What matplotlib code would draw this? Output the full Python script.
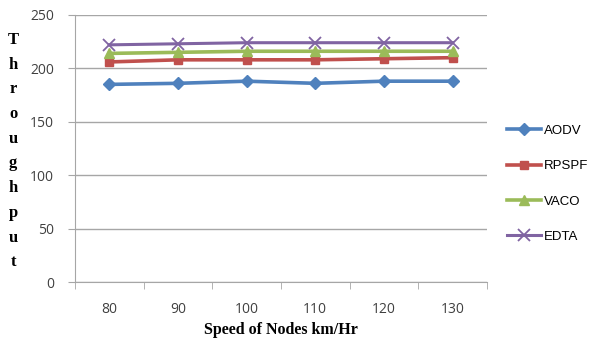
import matplotlib.pyplot as plt
from matplotlib.ticker import FixedLocator

# throughput against node speed for each routing scheme
speeds = ["80", "90", "100", "110", "120", "130"]
aodv = [185, 186, 188, 186, 188, 188]
rpspf = [206, 208, 208, 208, 209, 210]
vaco = [214, 215, 216, 216, 216, 216]
edta = [222, 223, 224, 224, 224, 224]

fig = plt.figure(figsize=(5.93, 3.47), dpi=100)
ax = fig.add_axes([0.1265, 0.187, 0.6945, 0.770])

x = list(range(len(speeds)))
ax.plot(x, aodv, color="#4F81BD", lw=2.6, marker="D", ms=6, label="AODV")
ax.plot(x, rpspf, color="#C0504D", lw=2.6, marker="s", ms=6, label="RPSPF")
ax.plot(x, vaco, color="#9BBB59", lw=2.6, marker="^", ms=7, label="VACO")
ax.plot(x, edta, color="#8064A2", lw=2.2, marker="x", ms=8, mew=1.3, label="EDTA")

ax.set_xlim(-0.5, len(speeds) - 0.5)
ax.set_ylim(0, 250)
ax.set_yticks(range(0, 251, 50))
ax.yaxis.grid(True, color="#A6A6A6", lw=1)
ax.set_axisbelow(True)

ax.set_xticks(x)
ax.set_xticklabels(speeds)
ax.xaxis.set_minor_locator(FixedLocator([i - 0.5 for i in range(len(speeds) + 1)]))
ax.tick_params(axis="x", which="major", length=0, pad=14)
ax.tick_params(axis="x", which="minor", length=5, color="#A6A6A6")
ax.tick_params(axis="y", length=5, color="#A6A6A6", pad=10)
for lab in ax.get_xticklabels() + ax.get_yticklabels():
    lab.set_fontfamily("Open Sans")
    lab.set_fontsize(10)
    lab.set_color("#404040")

for side in ["top", "right"]:
    ax.spines[side].set_visible(False)
for side in ["left", "bottom"]:
    ax.spines[side].set_color("#A6A6A6")

ax.set_xlabel("Speed of Nodes km/Hr", fontfamily="Liberation Serif",
              fontweight="bold", fontsize=11.5, labelpad=4)

# y label written as a column of letters
word = "Throughput"
for i, ch in enumerate(word):
    fig.text(0.022, 1 - (40 + i * 24.7) / 347, ch, fontfamily="Liberation Serif",
             fontweight="bold", fontsize=12, ha="center", va="center")

fig.legend(loc="center left", bbox_to_anchor=(0.855, 0.47), frameon=False,
           borderaxespad=0, borderpad=0, handlelength=2.6, handletextpad=0.2,
           labelspacing=1.75, prop={"family": "Liberation Sans", "size": 9.5})

fig.savefig("out.png", dpi=100)
